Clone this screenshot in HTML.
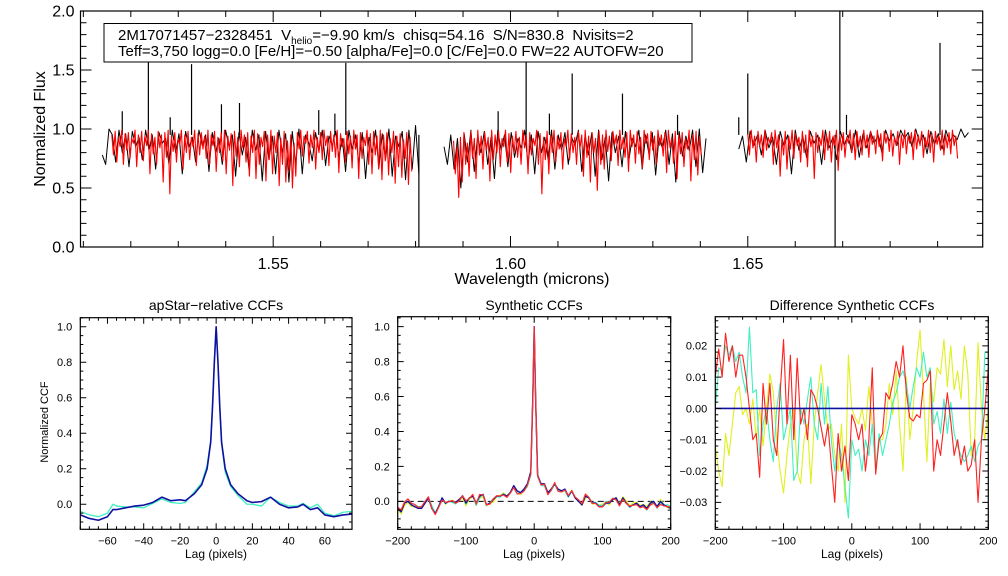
<!DOCTYPE html>
<html><head><meta charset="utf-8"><style>
html,body{margin:0;padding:0;background:#fff;}
svg{display:block;font-family:"Liberation Sans",sans-serif;}
text{white-space:pre;}
</style></head><body>
<svg id="fig" width="1008" height="576" viewBox="0 0 1008 576" xmlns="http://www.w3.org/2000/svg">
<rect x="0" y="0" width="1008" height="576" fill="#fff"/>
<g id="top-panel"></g>
<g id="p1"></g>
<g id="p2"></g>
<g id="p3"></g>
<g>
<rect x="104" y="23.5" width="588" height="38.5" fill="#fff" stroke="#000" stroke-width="1"/>
<text x="118" y="40" font-size="15">2M17071457−2328451  V<tspan font-size="10" dy="4">helio</tspan><tspan dy="-4">=−9.90 km/s  chisq=54.16  S/N=830.8  Nvisits=2</tspan></text>
<text x="118" y="56" font-size="15">Teff=3,750 logg=0.0 [Fe/H]=−0.50 [alpha/Fe]=0.0 [C/Fe]=0.0 FW=22 AUTOFW=20</text>
</g>
<text x="45" y="129" font-size="16" text-anchor="middle" transform="rotate(-90 45 129)">Normalized Flux</text>
<text x="532" y="284" font-size="16" text-anchor="middle">Wavelength (microns)</text>
<text x="216" y="310" font-size="14" text-anchor="middle">apStar−relative CCFs</text>
<text x="534" y="310" font-size="14" text-anchor="middle">Synthetic CCFs</text>
<text x="852" y="310" font-size="14" text-anchor="middle">Difference Synthetic CCFs</text>
<text x="48" y="422" font-size="11" text-anchor="middle" transform="rotate(-90 48 422)">Normalized CCF</text>
<text x="216" y="558" font-size="12" text-anchor="middle">Lag (pixels)</text>
<text x="534" y="558" font-size="12" text-anchor="middle">Lag (pixels)</text>
<text x="852" y="558" font-size="12" text-anchor="middle">Lag (pixels)</text>
</svg>
<script>
// ---- spectrum data ----
const chipRanges = [[1.5140,1.5807],[1.5860,1.6412],[1.6481,1.6965]];
const modelRanges = [[1.5160,1.5792],[1.5880,1.6402],[1.6500,1.6942]];
const obs1 = [.78,.70,1.0,.95,.72,.99,.80,.96,.68,.98,.85,.93,.74,.99,.82,.95,.66,.97,.88,.92,.70,.99,.80,.96,.62,.98,.84,.93,.72,.99,.86,.95,.64,.97,.80,.92,.70,.99,.85,.95,.60,.97,.78,.93,.66,.99,.82,.95,.56,.98,.74,.94,.62,.99,.80,.96,.55,.98,.70,1.0,.62,.95,.88,.73,.97,.81,.99,.69,.94,.86,.98,.76,.92,.64,.99,.83,.95,.71,.97,.58,.93,.80,.99,.67,.96,.74,1.0,.60,.94,.85,.98,.57,.99,.66,1.03,.62];
const obs2 = [.85,.70,.95,.66,.92,.50,.96,.72,.99,.64,.94,.80,.98,.70,.93,.58,.99,.82,.95,.68,.97,.76,.92,.84,.99,.70,.95,.62,.98,.80,.93,.74,.99,.66,.95,.82,.97,.70,.93,.86,.99,.64,.95,.78,.97,.60,.99,.74,.93,.56,.97,.80,.94,.68,.98,.73,.92,.85,.99,.66,.95,.79,.97,.61,.93,.84,.99,.70,.96,.55,.98,.77,.94,.82,.99,.68,1.0,.63,.92];
const obs3 = [.83,.94,.72,.98,.86,.95,.78,.99,.84,.93,.70,.98,.86,.95,.62,.99,.82,.94,.76,.98,.88,.95,.70,.99,.84,.93,.74,.98,.86,.95,.80,.99,.76,.96,.84,.98,.88,.95,.80,.99,.90,.96,.86,.99,.92,.97,.85,1.0,.88,.95,.79,.98,.87,.96,.83,.99,.89,.95,.91,1.0,.93,.97];
const mod1 = [.95,.78,.98,.72,.93,.85,.99,.70,.96,.82,.97,.75,.92,.88,.99,.68,.95,.80,.98,.73,.94,.86,.99,.62,.96,.79,.93,.70,.98,.84,.95,.55,.97,.76,.99,.45,.94,.81,.97,.72,.92,.87,.99,.66,.95,.80,.98,.74,.93,.85,.99,.69,.96,.78,.97,.83,.94,.75,.99,.70,.95,.86,.98,.64,.93,.80,.97,.73,.99,.62,.94,.82,.96,.52,.98,.77,.93,.68,.99,.84,.95,.72,.97,.60,.94,.80,.99,.58,.96,.70,.93,.85,.98,.56,.95,.74,.99,.62,.94,.80,.97,.52,.92,.70,.98,.55,.90,.65,.95,.50,.88,.60,
 .97,.83,.99,.77,.94,.88,.98,.71,.95,.84,.99,.66,.93,.80,.97,.74,.99,.86,.94,.69,.98,.81,.95,.76,.99,.63,.96,.85,.92,.72,.98,.79,.94,.67,.99,.83,.95,.58,.97,.75,.93,.86,.99,.70,.96,.62,.98,.78,.94,.66,.99,.57,.95,.73,.97,.61,.92,.80,.98,.54,.94,.68,.96,.59,.91,.75,.97,.53,.93,.64];
const mod2 = [.90,.62,.85,.42,.93,.55,.97,.70,.88,.60,.98,.75,.92,.58,.99,.78,.94,.66,.97,.82,.93,.56,.99,.74,.95,.80,.98,.68,.92,.85,.99,.72,.96,.63,.94,.80,.98,.76,.93,.70,.99,.84,.95,.62,.97,.78,.92,.86,.99,.70,.96,.45,.93,.74,.98,.62,.95,.80,.99,.72,.94,.83,.97,.66,.92,.85,.99,.74,.96,.80,.93,.70,.98,.84,.95,.60,.99,.76,.94,.55,.97,.80,.92,.48,.98,.70,.95,.66,
 .99,.81,.94,.73,.98,.87,.95,.69,.99,.83,.93,.76,.97,.64,.99,.85,.95,.71,.98,.79,.93,.67,.99,.88,.96,.74,.98,.82,.94,.70,.99,.86,.95,.77,.97,.63,.99,.84,.93,.71,.98,.58,.95,.79,.97,.68,.92,.83,.99,.56,.95,.74,.98,.61,.93,.78];
const mod3 = [.96,.78,.99,.84,.94,.72,.98,.86,.95,.76,.99,.82,.93,.88,.97,.70,.99,.84,.95,.60,.92,.78,.98,.66,.94,.83,.99,.75,.96,.86,.93,.72,.98,.80,.95,.68,.99,.85,.94,.58,.97,.80,.93,.86,.99,.74,.96,.82,.98,.72,.94,.86,.99,.65,.95,.82,.97,.76,.93,.88,.99,.80,.96,.74,.98,.85,.94,.78,.99,.84,.95,.76,
 .98,.87,.94,.79,.99,.85,.96,.73,.98,.88,.95,.81,.99,.77,.93,.86,.98,.70,.95,.84,.99,.79,.94,.88,.97,.74,.99,.83,.95,.86,.98,.76,.93,.85,.99,.80,.96,.72,.98,.87,.94,.82,.99,.78,.95,.84,.97,.79,.99,.86,.94,.75];
const spikeWave = [1.5182,1.5237,1.5283,1.5328,1.5391,1.5429,1.5596,1.5630,1.5653,1.5807,1.5974,1.6033,1.6082,1.6130,1.6236,1.6352,1.6481,1.6500,1.6684,1.6694,1.6708,1.6905];
const spikeFlux = [1.15,1.57,1.10,1.55,1.21,1.22,1.16,1.13,1.56,0.0,1.15,1.58,1.13,1.47,1.30,1.12,1.10,1.47,-0.1,2.1,1.12,1.73];

// ---- apStar CCF data ----
const lag1 = [-75,-70,-65,-60,-57,-55,-50,-45,-40,-35,-30,-25,-20,-17,-12,-8,-5,-3,-2,-1,0,1,2,3,5,8,12,17,20,25,30,35,40,45,48,52,56,60,65,70,75];
const ccfBlue1 = [-0.06,-0.08,-0.09,-0.07,-0.03,-0.03,-0.02,-0.01,-0.005,0.01,0.04,0.02,0.025,0.02,0.06,0.11,0.2,0.35,0.55,0.8,1.0,0.8,0.55,0.35,0.2,0.11,0.06,0.02,0.01,0.015,0.04,0.0,-0.02,-0.015,0.0,-0.03,-0.02,-0.06,-0.07,-0.06,-0.055];
const ccfCyan1 = [-0.04,-0.06,-0.07,-0.05,0.0,-0.01,-0.015,-0.015,-0.02,0.005,0.03,0.01,0.005,0.01,0.07,0.12,0.22,0.36,0.56,0.8,1.0,0.8,0.55,0.34,0.18,0.1,0.05,0.0,0.0,-0.01,0.04,0.01,-0.01,-0.01,0.005,-0.02,0.0,-0.05,-0.065,-0.045,-0.04];

// ---- synthetic CCF data ----
const lag2 = [-200,-195,-190,-185,-180,-175,-170,-165,-160,-155,-150,-145,-140,-135,-130,-125,-120,-115,-110,-105,-100,-95,-90,-85,-80,-75,-70,-65,-60,-55,-50,-45,-40,-35,-30,-25,-20,-15,-10,-5,-2,0,2,5,10,15,20,25,30,35,40,45,50,55,60,65,70,75,80,85,90,95,100,105,110,115,120,125,130,135,140,145,150,155,160,165,170,175,180,185,190,195,200];
const ccfBase2 = [-0.04,-0.06,-0.01,0.0,-0.02,-0.03,-0.04,-0.04,-0.01,0.02,-0.04,-0.07,-0.03,0.02,-0.01,0.0,0.0,-0.005,0.01,0.03,-0.01,0.02,0.03,-0.01,0.03,0.04,-0.02,-0.01,0.01,0.03,0.03,0.04,0.03,0.05,0.09,0.06,0.05,0.07,0.1,0.17,0.6,1.0,0.6,0.15,0.1,0.1,0.05,0.07,0.1,0.07,0.06,0.07,0.03,0.06,0.02,0.0,-0.02,0.03,0.02,-0.01,-0.01,-0.03,-0.03,-0.01,-0.01,0.01,0.02,-0.02,0.02,-0.01,-0.03,-0.02,-0.01,-0.03,-0.02,-0.04,-0.01,0.0,-0.03,0.0,-0.02,-0.03,-0.04];

// ---- difference CCF data ----
const lag3 = [-200,-195,-190,-185,-180,-175,-170,-165,-160,-155,-150,-145,-140,-135,-130,-125,-120,-115,-110,-105,-100,-95,-90,-85,-80,-75,-70,-65,-60,-55,-50,-45,-40,-35,-30,-25,-20,-15,-10,-5,0,5,10,15,20,25,30,35,40,45,50,55,60,65,70,75,80,85,90,95,100,105,110,115,120,125,130,135,140,145,150,155,160,165,170,175,180,185,190,195,200];
const diffRed = [0.01,0.019,0.01,0.024,0.015,0.02,0.01,0.017,0.017,0.01,0.0,-0.01,-0.008,-0.022,0.008,-0.005,0.008,-0.01,-0.015,0.005,0.022,-0.005,0.017,-0.01,0.016,-0.005,0.0,-0.01,0.006,0.004,0.0,-0.006,-0.012,-0.005,-0.018,-0.03,-0.008,-0.02,-0.012,-0.023,-0.002,-0.005,-0.01,-0.005,-0.02,-0.01,0.013,-0.021,-0.01,-0.008,0.005,0.003,0.008,0.015,0.01,0.02,0.005,-0.003,-0.004,-0.002,-0.003,0.008,0.009,0.012,-0.02,-0.01,-0.015,-0.005,0.005,-0.004,-0.015,-0.01,-0.018,-0.012,-0.02,-0.018,-0.01,-0.03,-0.01,0.0,0.013];
const diffCyan = [0.0,0.013,0.012,0.02,0.017,0.02,0.015,0.018,0.01,0.005,0.026,0.005,0.006,-0.015,-0.005,0.0,-0.01,-0.017,0.0,0.008,-0.01,-0.005,0.0,-0.023,-0.02,0.0,-0.005,0.003,0.01,-0.005,-0.01,0.008,-0.005,0.007,-0.01,-0.02,-0.01,-0.015,-0.025,-0.035,-0.01,-0.015,-0.013,-0.02,-0.01,-0.015,-0.005,-0.02,-0.008,-0.015,-0.01,-0.005,0.002,0.005,0.01,0.012,0.008,0.0,0.007,0.013,0.01,0.018,0.01,0.013,-0.005,-0.001,-0.008,0.003,-0.008,0.002,-0.008,-0.012,-0.015,-0.017,-0.015,-0.012,-0.017,-0.012,-0.01,0.018,0.018];
const diffYellow = [-0.012,-0.02,-0.025,-0.008,-0.015,-0.005,0.005,0.007,-0.002,0.0,-0.005,0.003,-0.01,0.0,-0.012,0.0,0.011,0.005,-0.01,-0.02,-0.027,-0.015,-0.005,0.0,-0.02,-0.024,-0.01,-0.005,-0.024,-0.005,0.005,0.014,0.003,-0.007,-0.005,-0.015,-0.02,-0.005,-0.03,0.017,0.0,-0.003,-0.005,0.0,-0.007,0.007,-0.005,-0.02,-0.01,-0.01,-0.005,0.008,-0.002,0.012,-0.005,-0.02,0.01,-0.01,0.0,0.015,0.025,0.005,-0.017,0.008,0.002,0.013,0.011,0.022,0.007,0.02,0.006,0.012,0.003,0.02,0.011,-0.015,-0.01,0.021,0.0,-0.01,0.0];

const NS = 'http://www.w3.org/2000/svg';
function el(tag, parent){ const e=document.createElementNS(NS,tag); parent.appendChild(e); return e; }
function scaler(p){ return { x:v=>p.x0+(v-p.xmin)/(p.xmax-p.xmin)*(p.x1-p.x0), y:v=>p.y1-(v-p.ymin)/(p.ymax-p.ymin)*(p.y1-p.y0) }; }
function fmt(v,d){ const s=Math.abs(v).toFixed(d); return (v< -1e-9?'−':'')+s; }

function drawAxes(g,p,o){
  const s=scaler(p);
  const fr=el('rect',g);
  
  
  fr.setAttribute('x',p.x0);fr.setAttribute('y',p.y0);fr.setAttribute('width',p.x1-p.x0);fr.setAttribute('height',p.y1-p.y0);
  fr.setAttribute('fill','none');fr.setAttribute('stroke','#000');fr.setAttribute('stroke-width','1.2');
  let d='';
  const eps=1e-9;
  for(let k=Math.ceil(p.xmin/o.xmin-eps);k*o.xmin<=p.xmax+eps;k++){
    const v=k*o.xmin; const X=s.x(v);
    const major=Math.abs(v/o.xmaj-Math.round(v/o.xmaj))<1e-6; const L=major?o.mj:o.mn;
    d+=`M${X},${p.y1}v${-L}M${X},${p.y0}v${L}`;
    if(major){ const t=el('text',g);
      
      
      t.setAttribute('x',X);t.setAttribute('y',p.y1+o.xly);t.setAttribute('font-size',o.fs);t.setAttribute('text-anchor','middle');t.textContent=fmt(v,o.xd);}
  }
  for(let k=Math.ceil(p.ymin/o.ymin-eps);k*o.ymin<=p.ymax+eps;k++){
    const v=k*o.ymin; const Y=s.y(v);
    const major=Math.abs(v/o.ymaj-Math.round(v/o.ymaj))<1e-6; const L=major?o.mj:o.mn;
    d+=`M${p.x0},${Y}h${L}M${p.x1},${Y}h${-L}`;
    if(major){ const t=el('text',g);
      
      
      t.setAttribute('x',p.x0-o.ylx);t.setAttribute('y',Y+o.fs*0.35);t.setAttribute('font-size',o.fs);t.setAttribute('text-anchor','end');t.textContent=fmt(v,o.yd);}
  }
  const tk=el('path',g);
  
  
  tk.setAttribute('d',d);tk.setAttribute('stroke','#000');tk.setAttribute('stroke-width','1');tk.setAttribute('fill','none');
  return s;
}
function line(g,s,xs,ys,color,w,name,clip){
  const pl=el('polyline',g);
  
  
  pl.setAttribute('points',xs.map((x,i)=>s.x(x).toFixed(2)+','+s.y(ys[i]).toFixed(2)).join(' '));
  pl.setAttribute('fill','none');pl.setAttribute('stroke',color);pl.setAttribute('stroke-width',w);pl.setAttribute('stroke-linejoin','round');
  if(clip) pl.setAttribute('clip-path',clip);
  return pl;
}
function addClip(id,p){
  const svg=document.getElementById('fig');
  const c=el('clipPath',svg); c.setAttribute('id',id);
  const r=el('rect',c); r.setAttribute('x',p.x0);r.setAttribute('y',p.y0);r.setAttribute('width',p.x1-p.x0);r.setAttribute('height',p.y1-p.y0);
  return `url(#${id})`;
}

// ---- top spectrum panel ----
const pt={x0:80.5,x1:982.7,y0:11,y1:247,xmin:1.5094,xmax:1.6995,ymin:0,ymax:2};
const gt=document.getElementById('top-panel');
const ct=addClip('ct',pt);
const sT=scaler(pt);
const obsChips=[obs1,obs2,obs3], modChips=[mod1,mod2,mod3];
obsChips.forEach((a,c)=>{ const r=chipRanges[c]; const xs=a.map((_,i)=>r[0]+i*(r[1]-r[0])/(a.length-1)); line(gt,sT,xs,a,'#000','1','observed-spectrum-chip',ct); });
spikeWave.forEach((w,i)=>{ line(gt,sT,[w,w],[0.95,spikeFlux[i]],'#000','1.2','spectrum-spike',ct); });
modChips.forEach((a,c)=>{ const r=modelRanges[c]; const xs=a.map((_,i)=>r[0]+i*(r[1]-r[0])/(a.length-1)); line(gt,sT,xs,a,'#ff0000','1.1','model-spectrum-chip',ct); });
drawAxes(gt,pt,{xmin:0.01,xmaj:0.05,ymin:0.1,ymaj:0.5,mj:11,mn:6,fs:16,xly:22,ylx:6,xd:2,yd:1});

// ---- panel 1 ----
const p1={x0:80.3,x1:352,y0:317.7,y1:529.3,xmin:-75,xmax:75,ymin:-0.141,ymax:1.051};
const g1=document.getElementById('p1'); const c1=addClip('c1',p1); const s1=scaler(p1);
line(g1,s1,lag1,ccfCyan1,'#40f0c0','1.3','ccf-cyan',c1);
line(g1,s1,lag1,ccfBlue1,'#1010a0','1.6','ccf-blue',c1);
drawAxes(g1,p1,{xmin:5,xmaj:20,ymin:0.05,ymaj:0.2,mj:6,mn:3,fs:11,xly:15,ylx:8,xd:0,yd:1});

// ---- panel 2 ----
const p2={x0:397.7,x1:670.7,y0:316.7,y1:529.3,xmin:-200,xmax:200,ymin:-0.16,ymax:1.057};
const g2=document.getElementById('p2'); const c2=addClip('c2',p2); const s2=scaler(p2);
function withDiff(diff){ return lag2.map((l,i)=>{ const j=lag3.indexOf(l); return ccfBase2[i]+(j>=0?diff[j]*0.6:0); }); }
const zl=el('line',g2);


zl.setAttribute('x1',p2.x0);zl.setAttribute('x2',p2.x1);zl.setAttribute('y1',s2.y(0));zl.setAttribute('y2',s2.y(0));zl.setAttribute('stroke','#000');zl.setAttribute('stroke-dasharray','6,4');
line(g2,s2,lag2,withDiff(diffYellow),'#e8f020','1.2','ccf-yellow',c2);
line(g2,s2,lag2,withDiff(diffCyan),'#40f0c0','1.2','ccf-cyan',c2);
line(g2,s2,lag2,ccfBase2,'#1010a0','1.4','ccf-blue',c2);
line(g2,s2,lag2,withDiff(diffRed),'#ff3030','1.2','ccf-red',c2);
drawAxes(g2,p2,{xmin:20,xmaj:100,ymin:0.05,ymaj:0.2,mj:6,mn:3,fs:11,xly:15,ylx:8,xd:0,yd:1});

// ---- panel 3 ----
const p3={x0:715.3,x1:988.3,y0:316.7,y1:529.3,xmin:-200,xmax:200,ymin:-0.0386,ymax:0.0293};
const g3=document.getElementById('p3'); const c3=addClip('c3',p3); const s3=scaler(p3);
line(g3,s3,lag3,diffYellow,'#e0f020','1.1','diff-yellow',c3);
line(g3,s3,lag3,diffCyan,'#40f0c0','1.1','diff-cyan',c3);
line(g3,s3,lag3,diffRed,'#ff2020','1.1','diff-red',c3);
line(g3,s3,[-200,200],[0,0],'#1010a0','1.6','diff-blue-zero',c3);
drawAxes(g3,p3,{xmin:20,xmaj:100,ymin:0.002,ymaj:0.01,mj:6,mn:3,fs:11,xly:15,ylx:8,xd:0,yd:2});
</script>
</body></html>
